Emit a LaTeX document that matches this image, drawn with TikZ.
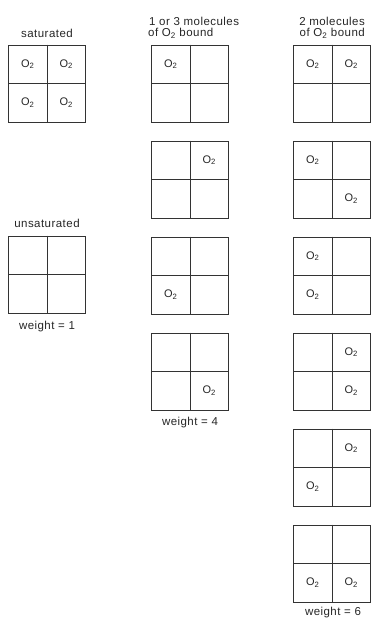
\documentclass[tikz,border=0pt]{standalone}
\usepackage{fontspec}
\setmainfont{Liberation Sans}[LetterSpace=4]
\usetikzlibrary{calc}
\tikzset{
  gridsq/.style={draw=black!80, line width=0.8pt, minimum width=77pt, minimum height=77pt, inner sep=0pt},
  gridln/.style={draw=black!80, line width=0.8pt},
  otxt/.style={text=black!85, font=\fontsize{11}{13}\selectfont, inner sep=0pt},
  lbl/.style={text=black!85, font=\fontsize{11.5}{13}\selectfont, inner sep=0pt},
}
\newcommand{\ogrid}[2]{%
  \node[gridsq] (#1) at (#2) {};
  \draw[gridln] (#1.north) -- (#1.south) (#1.west) -- (#1.east);}
\newcommand{\otwo}[2]{\node[otxt] (#1-#2) at ($(#1.center)+(#2)$) {O\textsubscript{2}};}
\begin{document}
\begin{tikzpicture}[x=1pt,y=-1pt]
\useasboundingbox (0,0) rectangle (371,621);
% column 1
\node[lbl] (lsat) at (47,33) {saturated};
\ogrid{sat}{47,83.5}
\otwo{sat}{-19.25,-19.25}\otwo{sat}{19.25,-19.25}\otwo{sat}{-19.25,19.25}\otwo{sat}{19.25,19.25}
\node[lbl] (lunsat) at (47,223) {unsaturated};
\ogrid{uns}{47,274.5}
\node[lbl] (w1) at (47,327) {weight = 1};
% column 2
\node[lbl, anchor=west] (l2a) at (149,21) {1 or 3 molecules};
\node[lbl, anchor=west] (l2b) at (148,33.5) {of O\textsubscript{2} bound};
\ogrid{a1}{190,83.5}\otwo{a1}{-19.25,-19.25}
\ogrid{a2}{190,179.5}\otwo{a2}{19.25,-19.25}
\ogrid{a3}{190,275.5}\otwo{a3}{-19.25,19.25}
\ogrid{a4}{190,371.5}\otwo{a4}{19.25,19.25}
\node[lbl] (w4) at (190,423) {weight = 4};
% column 3
\node[lbl, anchor=east] (l3a) at (365,21) {2 molecules};
\node[lbl, anchor=east] (l3b) at (365,33.5) {of O\textsubscript{2} bound};
\ogrid{b1}{332,83.5}\otwo{b1}{-19.25,-19.25}\otwo{b1}{19.25,-19.25}
\ogrid{b2}{332,179.5}\otwo{b2}{-19.25,-19.25}\otwo{b2}{19.25,19.25}
\ogrid{b3}{332,275.5}\otwo{b3}{-19.25,-19.25}\otwo{b3}{-19.25,19.25}
\ogrid{b4}{332,371.5}\otwo{b4}{19.25,-19.25}\otwo{b4}{19.25,19.25}
\ogrid{b5}{332,467.5}\otwo{b5}{19.25,-19.25}\otwo{b5}{-19.25,19.25}
\ogrid{b6}{332,563.5}\otwo{b6}{-19.25,19.25}\otwo{b6}{19.25,19.25}
\node[lbl] (w6) at (333,613) {weight = 6};
\end{tikzpicture}
\end{document}
